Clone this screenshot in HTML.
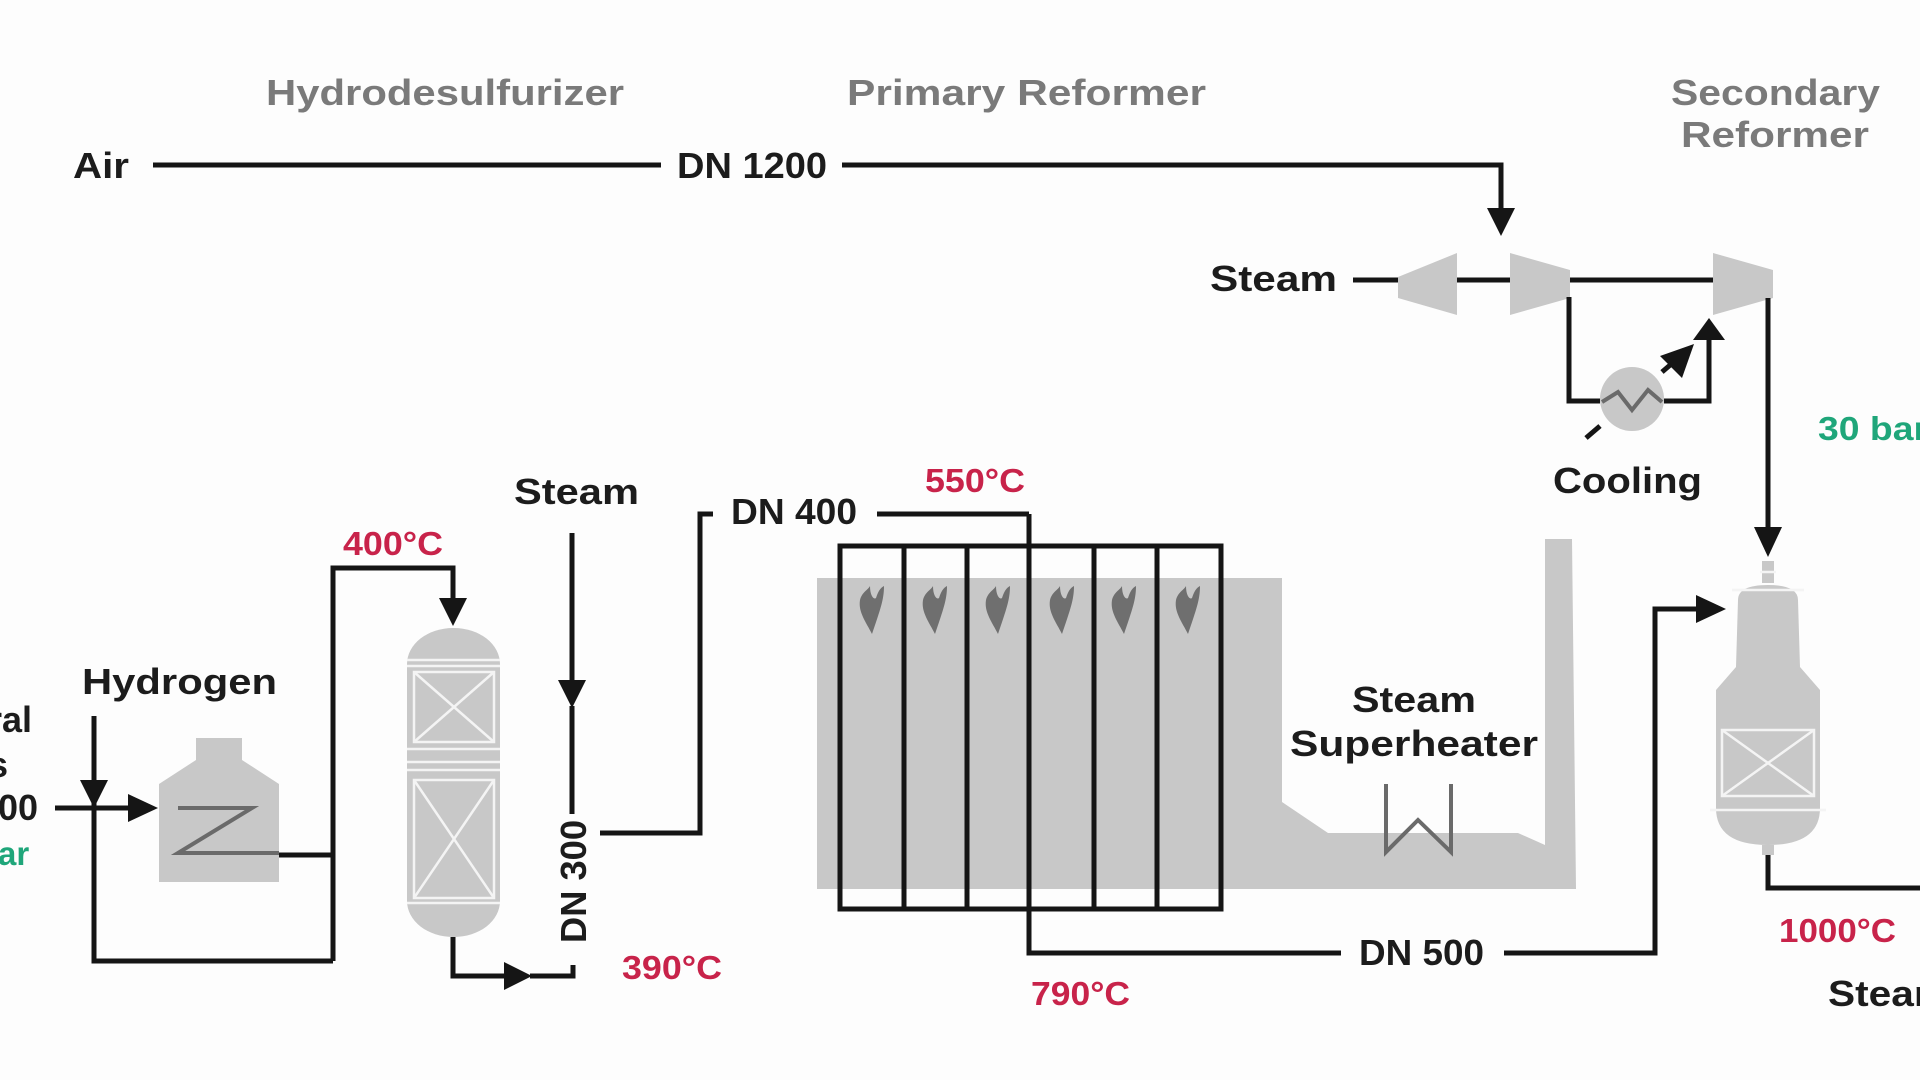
<!DOCTYPE html>
<html><head><meta charset="utf-8"><style>
html,body{margin:0;padding:0;background:#fdfdfd;}
svg{display:block;}
text{font-family:"Liberation Sans","DejaVu Sans",sans-serif;font-weight:bold;}
.k{fill:#1c1c1c;font-size:36px;}
.r{fill:#c8234a;font-size:33px;}
.g{fill:#7a7a7a;font-size:36px;}
.gr{fill:#1fa67a;font-size:33px;}
</style></head><body>
<svg width="1920" height="1080" viewBox="0 0 1920 1080" xmlns="http://www.w3.org/2000/svg">
<rect width="1920" height="1080" fill="#fdfdfd"/>
<text class="g" x="266" y="105" textLength="358" lengthAdjust="spacingAndGlyphs">Hydrodesulfurizer</text>
<text class="g" x="847" y="105" textLength="359" lengthAdjust="spacingAndGlyphs">Primary Reformer</text>
<text class="g" x="1671" y="105" textLength="209" lengthAdjust="spacingAndGlyphs">Secondary</text>
<text class="g" x="1681" y="147" textLength="188" lengthAdjust="spacingAndGlyphs">Reformer</text>

<g fill="#c8c8c8">
  <path d="M817 578 H1282 V802 L1328 833 H1518 L1545 845 V539 H1572 L1576 889 H817 Z"/>
  <polygon points="1398,277 1457,253 1457,315 1398,298"/>
  <polygon points="1510,253 1570,270 1570,298 1510,315"/>
  <polygon points="1713,253 1773,270 1773,298 1713,315"/>
  <circle cx="1632" cy="399" r="32"/>
  <path d="M196 738 H242 V760 L279 784 V882 H159 V784 L196 760 Z"/>
  <rect x="407" y="628" width="93" height="309" rx="46" ry="36"/>
  <rect x="1762" y="561" width="12" height="22"/>
  <path d="M1738 600 Q1738 585 1768 585 Q1798 585 1798 600 L1800 667 L1820 690 L1820 808 Q1820 845 1768 845 Q1716 845 1716 808 L1716 690 L1736 667 Z"/>
  <rect x="1762" y="845" width="12" height="10"/>
</g>
<g stroke="#f4f4f4" stroke-width="2.5" fill="none">
  <line x1="407" y1="660" x2="500" y2="660"/><line x1="407" y1="666" x2="500" y2="666"/>
  <line x1="407" y1="749" x2="500" y2="749"/><line x1="407" y1="762" x2="500" y2="762"/>
  <line x1="407" y1="770" x2="500" y2="770"/>
  <line x1="407" y1="903" x2="500" y2="903"/>
  <rect x="414" y="672" width="80" height="70"/><path d="M414 672 L494 742 M494 672 L414 742"/>
  <rect x="414" y="780" width="80" height="118"/><path d="M414 780 L494 898 M494 780 L414 898"/>
  <line x1="1732" y1="590" x2="1804" y2="590"/>
  <line x1="1710" y1="810" x2="1826" y2="810"/>
  <rect x="1722" y="730" width="92" height="66"/><path d="M1722 730 L1814 796 M1814 730 L1722 796"/>
  <line x1="1760" y1="572" x2="1776" y2="572"/>
</g>
<g fill="#6f6f6f">
  <path id="fl" d="M872 634 C866 622 858 612 860 600 C862 592 868 590 870 586 C870 596 874 600 876 598 C878 592 880 588 884 586 C884 600 880 610 872 634 Z"/>
  <use href="#fl" x="63"/><use href="#fl" x="126"/><use href="#fl" x="190"/><use href="#fl" x="252"/><use href="#fl" x="316"/>
</g>
<g stroke="#6a6a6a" stroke-width="4" fill="none">
  <polyline points="178,808 252,808 178,853 279,853"/>
  <polyline points="1386,784 1386,852 1418,820 1451,852 1451,784"/>
  <polyline points="1602,402 1618,392 1632,410 1648,390 1662,402"/>
</g>
<g stroke="#151515" stroke-width="5" fill="none" stroke-linejoin="miter">
  <line x1="153" y1="165" x2="661" y2="165"/>
  <polyline points="842,165 1501,165 1501,212"/>
  <line x1="1353" y1="280" x2="1398" y2="280"/>
  <line x1="1457" y1="280" x2="1510" y2="280"/>
  <line x1="1570" y1="280" x2="1713" y2="280"/>
  <polyline points="1569,297 1569,401 1600,401"/>
  <polyline points="1664,401 1709,401 1709,335"/>
  <line x1="1768" y1="298" x2="1768" y2="532"/>
  <line x1="1586" y1="438" x2="1600" y2="426"/>
  <line x1="1662" y1="372" x2="1676" y2="360"/>
  <polyline points="1768,855 1768,888 1920,888"/>
  <polyline points="1029,514 1029,953 1341,953"/>
  <polyline points="1504,953 1655,953 1655,609 1698,609"/>
  <polyline points="600,833 700,833 700,514 713,514"/>
  <line x1="877" y1="514" x2="1029" y2="514"/>
  <rect x="840" y="546" width="381" height="363"/>
  <line x1="904" y1="546" x2="904" y2="909"/><line x1="967" y1="546" x2="967" y2="909"/>
  <line x1="1094" y1="546" x2="1094" y2="909"/><line x1="1157" y1="546" x2="1157" y2="909"/>
  <polyline points="279,855 333,855"/>
  <polyline points="333,961 333,568 453,568 453,600"/>
  <polyline points="94,716 94,961 333,961"/>
  <line x1="55" y1="808" x2="132" y2="808"/>
  <polyline points="453,937 453,976 505,976"/>
  <polyline points="530,976 573,976 573,965"/>
  <line x1="572" y1="533" x2="572" y2="682"/>
  <line x1="572" y1="706" x2="572" y2="814"/>
</g>
<g fill="#151515">
  <polygon points="1487,208 1515,208 1501,236"/>
  <polygon points="1754,527 1782,527 1768,557"/>
  <polygon points="1696,595 1696,623 1726,609"/>
  <polygon points="1693,340 1725,340 1709,318"/>
  <polygon points="1660,356 1694,344 1682,378"/>
  <polygon points="439,598 467,598 453,626"/>
  <polygon points="504,962 504,990 532,976"/>
  <polygon points="558,680 586,680 572,708"/>
  <polygon points="80,780 108,780 94,808"/>
  <polygon points="128,794 128,822 158,808"/>
</g>
<text class="k" x="73" y="178" textLength="56" lengthAdjust="spacingAndGlyphs">Air</text>
<text class="k" x="677" y="178" textLength="150" lengthAdjust="spacingAndGlyphs">DN 1200</text>
<text class="k" x="1210" y="291" textLength="127" lengthAdjust="spacingAndGlyphs">Steam</text>
<text class="k" x="1553" y="493" textLength="149" lengthAdjust="spacingAndGlyphs">Cooling</text>
<text class="gr" x="1818" y="440" textLength="110" lengthAdjust="spacingAndGlyphs">30 bar</text>
<text class="k" x="514" y="504" textLength="125" lengthAdjust="spacingAndGlyphs">Steam</text>
<text class="k" x="731" y="524" textLength="126" lengthAdjust="spacingAndGlyphs">DN 400</text>
<text class="r" x="925" y="492" textLength="100" lengthAdjust="spacingAndGlyphs">550°C</text>
<text class="r" x="343" y="555" textLength="100" lengthAdjust="spacingAndGlyphs">400°C</text>
<text class="k" x="82" y="694" textLength="195" lengthAdjust="spacingAndGlyphs">Hydrogen</text>
<text class="k" x="-12" y="732">ral</text>
<text class="k" x="-12" y="777">s</text>
<text class="k" x="-2" y="820">00</text>
<text class="gr" x="-2" y="865">ar</text>
<text class="k" x="1352" y="712" textLength="124" lengthAdjust="spacingAndGlyphs">Steam</text>
<text class="k" x="1290" y="756" textLength="248" lengthAdjust="spacingAndGlyphs">Superheater</text>
<text class="k" transform="translate(586,943) rotate(-90)" textLength="123" lengthAdjust="spacingAndGlyphs">DN 300</text>
<text class="r" x="622" y="979" textLength="100" lengthAdjust="spacingAndGlyphs">390°C</text>
<text class="k" x="1359" y="965" textLength="125" lengthAdjust="spacingAndGlyphs">DN 500</text>
<text class="r" x="1031" y="1005" textLength="99" lengthAdjust="spacingAndGlyphs">790°C</text>
<text class="r" x="1779" y="942" textLength="117" lengthAdjust="spacingAndGlyphs">1000°C</text>
<text class="k" x="1828" y="1006" textLength="122" lengthAdjust="spacingAndGlyphs">Steam</text>
</svg>
</body></html>
